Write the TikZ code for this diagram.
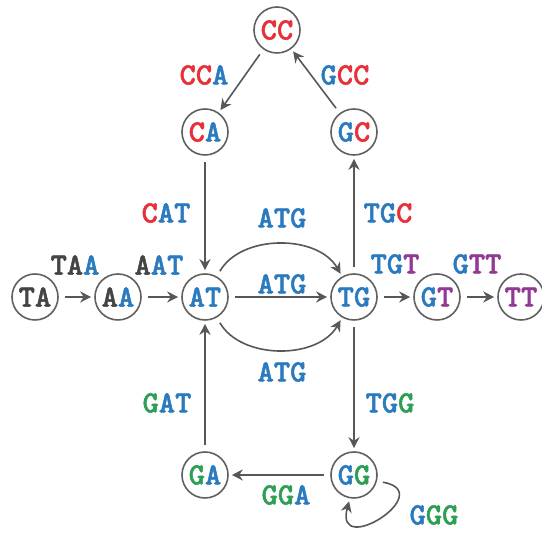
\documentclass[tikz,border=0pt]{standalone}
\usepackage{fontspec}
\newfontfamily\kmerfont{lmmonolt10-bold.otf}[FakeBold=1.6]
\usepackage{xcolor}
\usepackage{tikz}
\usetikzlibrary{arrows.meta}

\definecolor{kdark}{HTML}{444444}
\definecolor{kblue}{HTML}{2A7ABF}
\definecolor{kred}{HTML}{E8303A}
\definecolor{kgreen}{HTML}{2E9E55}
\definecolor{kpurple}{HTML}{923A93}
\newcommand{\cK}[1]{\textcolor{kdark}{#1}}
\newcommand{\cB}[1]{\textcolor{kblue}{#1}}
\newcommand{\cR}[1]{\textcolor{kred}{#1}}
\newcommand{\cG}[1]{\textcolor{kgreen}{#1}}
\newcommand{\cP}[1]{\textcolor{kpurple}{#1}}

\begin{document}
\begin{tikzpicture}[x=0.5pt,y=-0.5pt,
    font=\fontsize{15.5}{17}\selectfont\kmerfont,
    kmer/.style={circle,draw=kdark!85,line width=0.8pt,minimum size=23pt,inner sep=0pt},
    edge/.style={draw=kdark!90,line width=0.8pt,-{Stealth[length=5.5pt,width=5.5pt,inset=1.8pt]},
                 shorten <=3pt,shorten >=1.5pt}]
          \useasboundingbox (0,0) rectangle (542,533);

          % 2-mers
          \node[kmer] (TA) at (35,297) {\cK{T}\cK{A}};
          \node[kmer] (AA) at (118,297) {\cK{A}\cB{A}};
          \node[kmer] (AT) at (205,297) {\cB{A}\cB{T}};
          \node[kmer] (TG) at (354,297) {\cB{T}\cB{G}};
          \node[kmer] (GT) at (437,297) {\cB{G}\cP{T}};
          \node[kmer] (TT) at (521,297) {\cP{T}\cP{T}};
          \node[kmer] (CC) at (277,30) {\cR{C}\cR{C}};
          \node[kmer] (CA) at (205,132) {\cR{C}\cB{A}};
          \node[kmer] (GC) at (354,132) {\cB{G}\cR{C}};
          \node[kmer] (GA) at (205,475) {\cG{G}\cB{A}};
          \node[kmer] (GG) at (354,475) {\cB{G}\cG{G}};

          % 3-mers
          \node (lTAA) at (75,265) {\cK{T}\cK{A}\cB{A}};
          \node (lAAT) at (159,265) {\cK{A}\cB{A}\cB{T}};
          \node (lATGa) at (282,218) {\cB{ATG}};
          \node (lATGb) at (282,284) {\cB{ATG}};
          \node (lATGc) at (282,372) {\cB{ATG}};
          \node (lTGT) at (395,264) {\cB{T}\cB{G}\cP{T}};
          \node (lGTT) at (477,264) {\cB{G}\cP{T}\cP{T}};
          \node (lCAT) at (166,213) {\cR{C}\cB{A}\cB{T}};
          \node (lTGC) at (388,213) {\cB{T}\cB{G}\cR{C}};
          \node (lCCA) at (204,75) {\cR{C}\cR{C}\cB{A}};
          \node (lGCC) at (345,75) {\cB{G}\cR{C}\cR{C}};
          \node (lGAT) at (167,403) {\cG{G}\cB{A}\cB{T}};
          \node (lTGG) at (390,403) {\cB{T}\cB{G}\cG{G}};
          \node (lGGA) at (286,495) {\cG{G}\cG{G}\cB{A}};
          \node (lGGG) at (434,515) {\cB{G}\cG{G}\cG{G}};

          \draw[edge] (TA) -- (AA);
          \draw[edge] (AA) -- (AT);
          \draw[edge] (AT) to[bend left=60] (TG);
          \draw[edge] (AT) -- (TG);
          \draw[edge] (AT) to[bend right=60] (TG);
          \draw[edge] (TG) -- (GT);
          \draw[edge] (GT) -- (TT);
          \draw[edge] (CA) -- (AT);
          \draw[edge] (GA) -- (AT);
          \draw[edge] (TG) -- (GC);
          \draw[edge] (GC) -- (CC);
          \draw[edge] (CC) -- (CA);
          \draw[edge] (TG) -- (GG);
          \draw[edge] (GG) -- (GA);
          \draw[edge] (GG.-15) to[out=-10,in=-105,looseness=5] (GG.-100);
        \end{tikzpicture}
\end{document}
